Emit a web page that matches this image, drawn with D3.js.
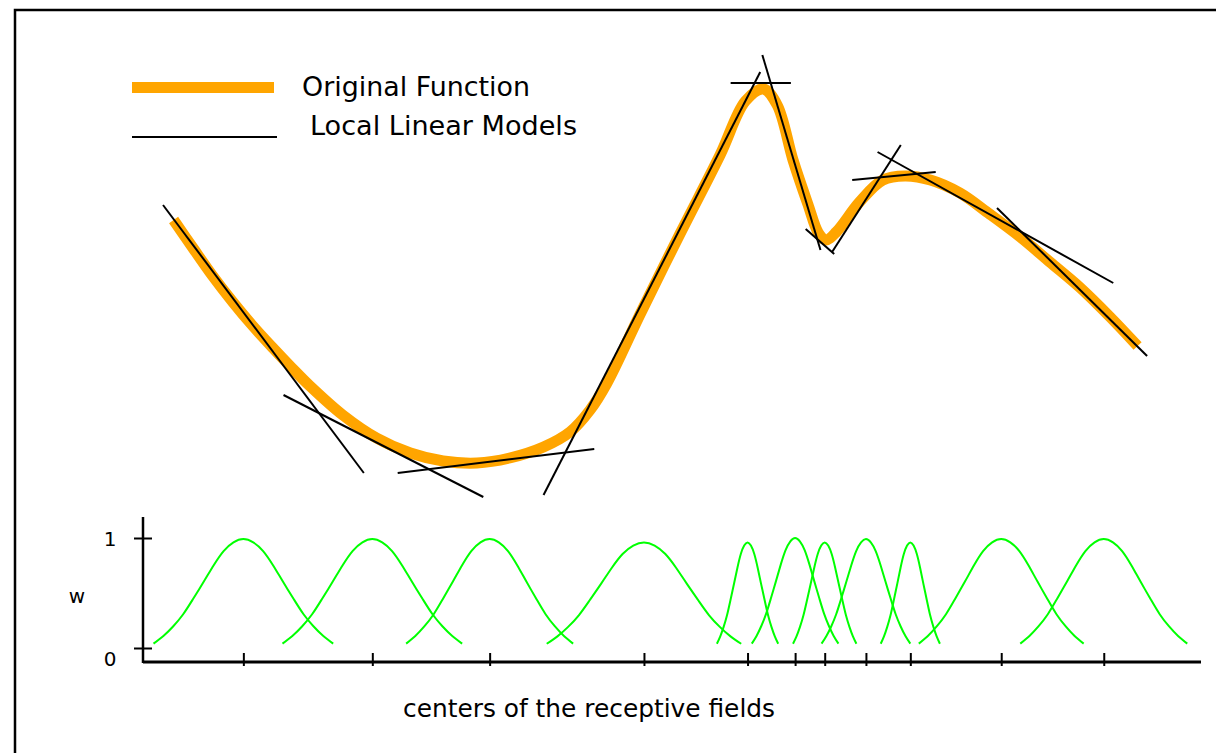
<!DOCTYPE html>
<html>
<head>
<meta charset="utf-8">
<script src="https://cdn.jsdelivr.net/npm/d3@7"></script>
<style>
  body { margin: 0; background: #fff; }
  svg { display: block; }
</style>
</head>
<body>
<script>
var width = 1216, height = 753;

// original function (x in receptive-field units, y in output units)
var fnX = [0.28,0.47,0.65,0.84,1.03,1.22,1.40,1.57,1.88,2.20,2.52,2.83,3.15,3.46,3.78,4.03,4.22,4.38,4.69,5.07,
           5.45,5.69,5.86,5.99,6.14,6.28,6.38,6.45,6.55,6.77,6.99,7.20,7.44,7.72,8.00,8.29,8.57,8.86,9.14,9.40];
var fnY = [2.60,2.31,2.04,1.78,1.54,1.32,1.12,0.94,0.65,0.42,0.27,0.19,0.17,0.22,0.33,0.48,0.70,0.97,1.65,2.46,
           3.25,3.79,3.91,3.75,3.20,2.76,2.47,2.40,2.48,2.78,3.00,3.04,3.00,2.87,2.66,2.43,2.18,1.92,1.63,1.34];

// local linear models, one segment per receptive field
var lmX0 = [0.18,1.32,2.40,3.78,5.55,5.85,6.26,6.51,6.70,6.94,8.07];
var lmY0 = [2.75,0.85,0.07,-0.15,3.97,4.25,2.51,2.28,3.00,3.28,2.72];
var lmX1 = [2.08,3.21,4.26,5.83,6.12,6.40,6.53,7.16,7.49,9.17,9.49];
var lmY1 = [0.07,-0.17,0.31,4.08,3.97,2.30,2.26,3.35,3.08,1.97,1.24];

// receptive fields
var centers    = [0.94,2.16,3.27,4.73,5.71,6.16,6.44,6.83,7.25,8.11,9.08];
var halfWidths = [0.85,0.85,0.79,0.92,0.29,0.41,0.30,0.42,0.28,0.78,0.79];
var peaks      = [0.99,0.99,0.99,0.96,0.96,1.00,0.96,0.99,0.96,0.99,0.99];

// shape of one field (offset in half-widths, weight)
var profileT = [-1,-0.89,-0.78,-0.67,-0.56,-0.44,-0.33,-0.22,-0.11,0,0.11,0.22,0.33,0.44,0.56,0.67,0.78,0.89,1];
var profileW = [0.04,0.11,0.2,0.31,0.45,0.61,0.76,0.89,0.97,1,0.97,0.89,0.76,0.61,0.45,0.31,0.2,0.11,0.04];

var wTicks = [0, 1];
var legendLabels = ["Original Function", "Local Linear Models"];
var xLabel = "centers of the receptive fields";
var yLabel = "w";

var svg = d3.select("body")
  .append("svg")
  .attr("width", width)
  .attr("height", height);

var x = d3.scaleLinear().domain([0, 10]).range([144, 1201]);
var yTop = d3.scaleLinear().domain([0, 4]).range([480, 80]);
var yW = d3.scaleLinear().domain([0, 1]).range([648, 538]);

// frame
svg.append("path")
  .attr("d", "M15," + height + "V10H" + width)
  .attr("fill", "none")
  .attr("stroke", "#000")
  .attr("stroke-width", 2.5);

// original function
var fnLine = d3.line()
  .x(function(d){ return x(d[0]); })
  .y(function(d){ return yTop(d[1]); })
  .curve(d3.curveCatmullRom);

svg.append("path")
  .datum(fnX.map(function(v, i){ return [v, fnY[i]]; }))
  .attr("d", fnLine)
  .attr("fill", "none")
  .attr("stroke", "#FFA500")
  .attr("stroke-width", 11);

// local linear models
svg.append("g")
  .selectAll("line")
  .data(lmX0)
  .enter()
  .append("line")
  .attr("x1", function(d){ return x(d); })
  .attr("y1", function(d, i){ return yTop(lmY0[i]); })
  .attr("x2", function(d, i){ return x(lmX1[i]); })
  .attr("y2", function(d, i){ return yTop(lmY1[i]); })
  .attr("stroke", "#000")
  .attr("stroke-width", 2);

// legend
svg.append("line")
  .attr("x1", 132).attr("x2", 274).attr("y1", 87.5).attr("y2", 87.5)
  .attr("stroke", "#FFA500").attr("stroke-width", 11);
svg.append("line")
  .attr("x1", 132).attr("x2", 277).attr("y1", 137).attr("y2", 137)
  .attr("stroke", "#000").attr("stroke-width", 2);

svg.append("text")
  .attr("x", 302).attr("y", 96)
  .attr("textLength", 228).attr("lengthAdjust", "spacingAndGlyphs")
  .style("font-family", "DejaVu Sans").style("font-size", "26px")
  .text(legendLabels[0]);
svg.append("text")
  .attr("x", 310).attr("y", 135)
  .attr("textLength", 267).attr("lengthAdjust", "spacingAndGlyphs")
  .style("font-family", "DejaVu Sans").style("font-size", "26px")
  .text(legendLabels[1]);

// receptive field weights
var wLine = d3.line()
  .x(function(d){ return x(d[0]); })
  .y(function(d){ return yW(d[1]); })
  .curve(d3.curveNatural);

svg.append("g")
  .selectAll("path")
  .data(centers)
  .enter()
  .append("path")
  .attr("d", function(c, i){
    return wLine(profileT.map(function(t, j){
      return [c + t * halfWidths[i], profileW[j] * peaks[i]];
    }));
  })
  .attr("fill", "none")
  .attr("stroke", "#00FF00")
  .attr("stroke-width", 2);

// axes
var xAxis = svg.append("g")
  .attr("transform", "translate(0,662)")
  .call(d3.axisBottom(x).tickValues(centers).tickFormat(""));
xAxis.select(".domain").remove();
xAxis.selectAll(".tick line")
  .attr("y1", -9).attr("y2", 4)
  .attr("stroke-width", 2);

var yAxis = svg.append("g")
  .attr("transform", "translate(143,0)")
  .call(d3.axisLeft(yW).tickValues(wTicks).tickFormat(""));
yAxis.select(".domain").remove();
yAxis.selectAll(".tick line")
  .attr("x1", -9).attr("x2", 9)
  .attr("stroke-width", 2);

svg.append("line")
  .attr("x1", 143).attr("x2", x.range()[1]).attr("y1", 662).attr("y2", 662)
  .attr("stroke", "#000").attr("stroke-width", 3);
svg.append("line")
  .attr("x1", 143).attr("x2", 143).attr("y1", 517).attr("y2", 663)
  .attr("stroke", "#000").attr("stroke-width", 2.5);

svg.append("g")
  .selectAll("text")
  .data(wTicks)
  .enter()
  .append("text")
  .attr("x", 110)
  .attr("y", function(d){ return yW(d) + (d === 0 ? 18 : 8); })
  .attr("text-anchor", "middle")
  .style("font-family", "DejaVu Sans")
  .style("font-size", "20px")
  .text(function(d){ return d; });

svg.append("text")
  .attr("x", 77).attr("y", 603)
  .attr("text-anchor", "middle")
  .style("font-family", "DejaVu Sans")
  .style("font-size", "20px")
  .text(yLabel);

svg.append("text")
  .attr("x", 403).attr("y", 717)
  .attr("textLength", 372).attr("lengthAdjust", "spacingAndGlyphs")
  .style("font-family", "DejaVu Sans")
  .style("font-size", "24px")
  .text(xLabel);
</script>
</body>
</html>
